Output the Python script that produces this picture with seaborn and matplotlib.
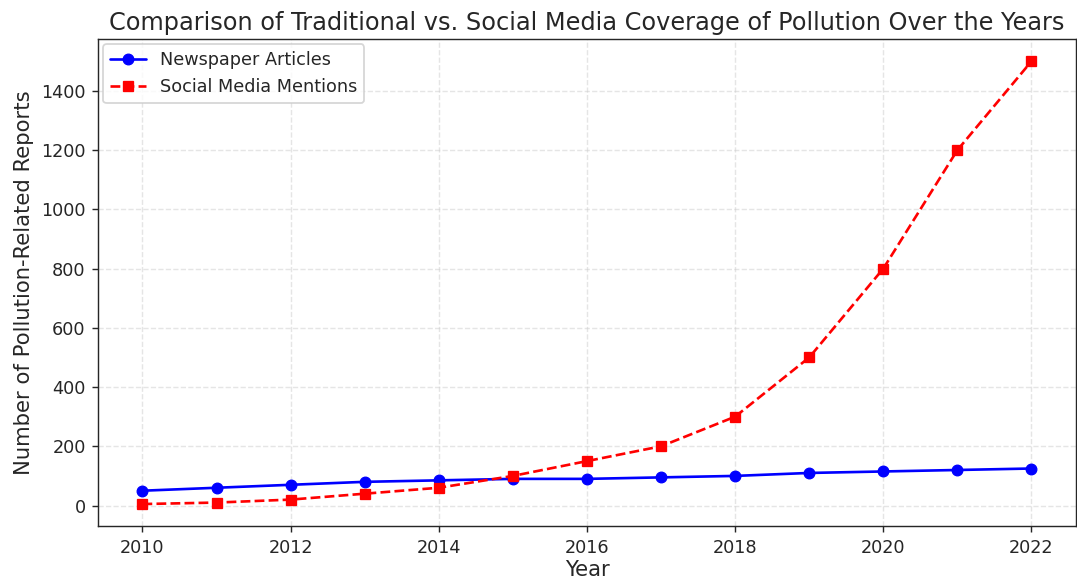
import matplotlib
matplotlib.use("Agg")
import matplotlib.pyplot as plt
import seaborn as sns
import pandas as pd

years = [2010, 2011, 2012, 2013, 2014, 2015, 2016, 2017, 2018, 2019, 2020, 2021, 2022]
newspaper = [50, 60, 70, 80, 85, 90, 90, 95, 100, 110, 115, 120, 125]
social = [5, 10, 20, 40, 60, 100, 150, 200, 300, 500, 800, 1200, 1500]

sns.set_style("ticks")
plt.rcParams['font.family'] = ['DejaVu Sans']

DPI = 127
fig, ax = plt.subplots(figsize=(1077 / DPI, 584 / DPI), dpi=DPI)
df = pd.DataFrame({"Year": years, "Newspaper Articles": newspaper, "Social Media Mentions": social})
sns.lineplot(data=df, x="Year", y="Newspaper Articles", ax=ax, color="blue", marker="o",
             markersize=6, markeredgecolor="blue", linestyle="-", linewidth=1.5,
             label="Newspaper Articles")
sns.lineplot(data=df, x="Year", y="Social Media Mentions", ax=ax, color="red", marker="s",
             markersize=6, markeredgecolor="red", linestyle="--", linewidth=1.5,
             label="Social Media Mentions")
ax.set_title("Comparison of Traditional vs. Social Media Coverage of Pollution Over the Years",
             fontsize=13.6, x=0.5, pad=5)
ax.set_xlabel("Year", fontsize=12, labelpad=2)
ax.set_ylabel("Number of Pollution-Related Reports", fontsize=12)
ax.tick_params(labelsize=10)
ax.grid(True, linestyle="--", alpha=0.5)
ax.legend(loc="upper left", fontsize=10, borderaxespad=0.3)
fig.subplots_adjust(left=0.091, right=0.999, top=0.933, bottom=0.099)
fig.savefig("out.png", dpi=DPI)
